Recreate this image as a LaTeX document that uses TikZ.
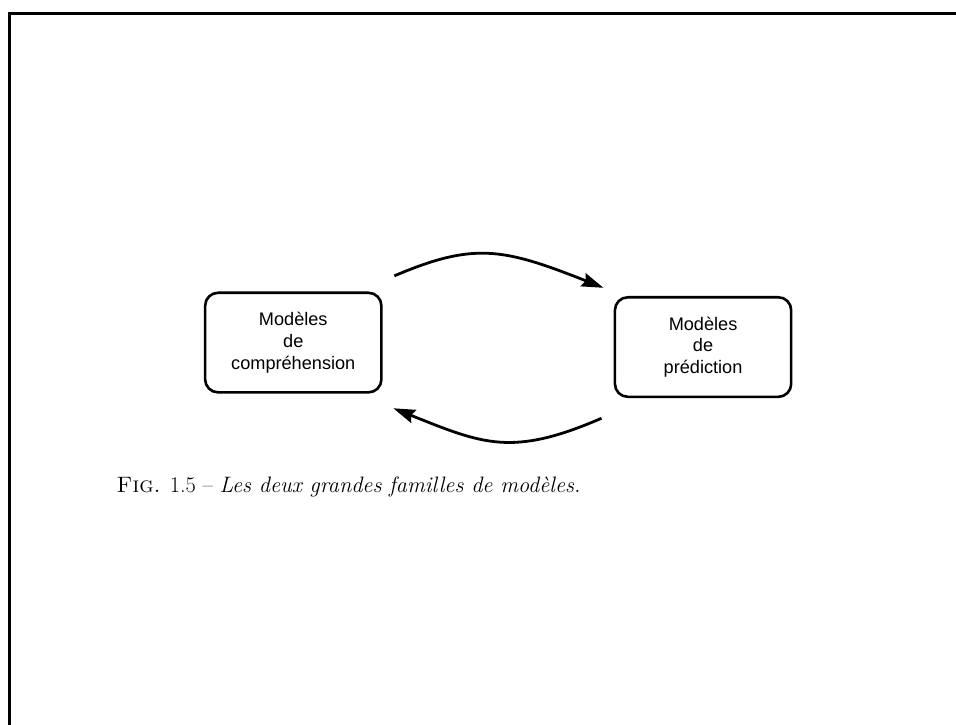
\documentclass[tikz,border=0pt]{standalone}
\usepackage{fontspec}
\newfontfamily\sansf{Liberation Sans}
\usetikzlibrary{arrows.meta}
\tikzset{
  modelbox/.style={draw=black, line width=2.6bp, rounded corners=13bp,
    minimum width=177bp, minimum height=100bp, align=center,
    font=\sansf\fontsize{18.3}{22}\selectfont, inner sep=0pt},
  arc/.style={line width=2.8bp, -{Stealth[length=22bp,width=14bp,inset=3bp]}},
  frame/.style={line width=3bp}
}
\begin{document}
\begin{tikzpicture}[x=1bp,y=-1bp]
\fill[white] (-2,-2) rectangle (958,726);
\useasboundingbox (0,0) rectangle (956,724);
\coordinate (fa) at (8,726);
\coordinate (fb) at (8,12);
\coordinate (fc) at (958,12);
\draw[frame] (fa) -- (fb) -- (fc);
\node[modelbox] (comp) at (292.5,342) {Modèles\\de\\compréhension};
\node[modelbox] (pred) at (704,346.5) {Modèles\\de\\prédiction};
\coordinate (t0) at (394,275);
\coordinate (t1) at (604,287);
\coordinate (b0) at (602,418);
\coordinate (b1) at (393,408);
\draw[arc] (t0) .. controls (474,241) and (503,247) .. (t1);
\draw[arc] (b0) .. controls (512,457) and (483,444) .. (b1);
\node[anchor=base west, inner sep=0pt, font=\fontsize{22.5}{27}\selectfont] (cap) at (115,493)
  {\textsc{Fig.} 1.5 -- \textit{Les deux grandes familles de modèles.}};
\end{tikzpicture}
\end{document}
